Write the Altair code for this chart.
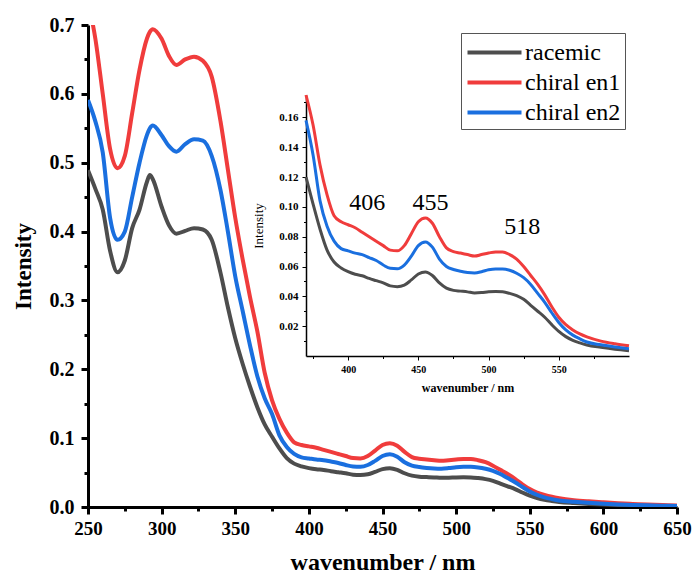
import altair as alt
import pandas as pd

# ---------------- data ----------------
wavelength = [250, 255, 260, 265, 270, 275, 280, 285, 290, 292, 294, 300, 305, 310, 316, 322, 328, 334,
              340, 345, 350, 355, 360, 365, 370, 375, 380, 385, 390, 395, 400, 405, 410, 415, 420,
              425, 430, 435, 440, 445, 450, 455, 460, 465, 470, 475, 480, 485, 490, 495, 500, 505,
              510, 515, 520, 525, 530, 535, 540, 545, 550, 555, 560, 565, 570, 580, 590, 600, 610,
              620, 630, 640, 650]

racemic = [0.489, 0.462, 0.432, 0.372, 0.341, 0.358, 0.405, 0.432, 0.472, 0.482, 0.476, 0.436, 0.409,
           0.397, 0.401, 0.405, 0.403, 0.388, 0.340, 0.290, 0.245, 0.208, 0.175, 0.145, 0.120, 0.102,
           0.085, 0.071, 0.063, 0.059, 0.0565, 0.0548, 0.0538, 0.052, 0.0505, 0.049, 0.047, 0.0465,
           0.0475, 0.051, 0.055, 0.0564, 0.054, 0.049, 0.0455, 0.044, 0.0435, 0.043, 0.0423, 0.0425,
           0.043, 0.0432, 0.043, 0.042, 0.0405, 0.038, 0.034, 0.030, 0.026, 0.021, 0.0165, 0.013,
           0.0105, 0.0088, 0.0074, 0.0058, 0.0045, 0.0036, 0.003, 0.0025, 0.002, 0.0017, 0.0015]

chiral_en1 = [0.735, 0.68, 0.60, 0.52, 0.492, 0.51, 0.572, 0.635, 0.680, 0.690, 0.694, 0.680, 0.655,
              0.642, 0.650, 0.654, 0.648, 0.625, 0.560, 0.490, 0.420, 0.360, 0.305, 0.255, 0.195,
              0.155, 0.128, 0.108, 0.094, 0.090, 0.088, 0.086, 0.083, 0.080, 0.077, 0.074, 0.071,
              0.0705, 0.074, 0.082, 0.090, 0.0926, 0.089, 0.080, 0.0725, 0.070, 0.069, 0.068, 0.067,
              0.068, 0.069, 0.0698, 0.0698, 0.068, 0.065, 0.060, 0.054, 0.048, 0.041, 0.033, 0.026,
              0.021, 0.0175, 0.0148, 0.0128, 0.010, 0.0082, 0.0068, 0.0055, 0.0045, 0.0035, 0.0028,
              0.0022]

chiral_en2 = [0.591, 0.560, 0.515, 0.420, 0.388, 0.400, 0.450, 0.500, 0.540, 0.550, 0.554, 0.540,
              0.524, 0.516, 0.527, 0.534, 0.532, 0.510, 0.460, 0.400, 0.335, 0.285, 0.235, 0.190,
              0.158, 0.135, 0.104, 0.087, 0.077, 0.072, 0.0705, 0.069, 0.068, 0.066, 0.064, 0.061,
              0.0588, 0.0585, 0.061, 0.067, 0.074, 0.0765, 0.073, 0.065, 0.060, 0.058, 0.0568, 0.056,
              0.0557, 0.0565, 0.0578, 0.0584, 0.0584, 0.0575, 0.0555, 0.0525, 0.048, 0.042, 0.036,
              0.029, 0.0225, 0.0175, 0.014, 0.0115, 0.0094, 0.0075, 0.006, 0.0048, 0.0038, 0.003,
              0.0024, 0.0019, 0.0015]

series_names = ["racemic", "chiral en1", "chiral en2"]
series_colors = ["#4d4d4d", "#f03c3c", "#1a6fdf"]

main_x_ticks = [250, 275, 300, 325, 350, 375, 400, 425, 450, 475, 500, 525, 550, 575, 600, 625, 650]
main_y_ticks = [0.0, 0.05, 0.1, 0.15, 0.2, 0.25, 0.3, 0.35, 0.4, 0.45, 0.5, 0.55, 0.6, 0.65, 0.7]
inset_x_ticks = [375, 400, 425, 450, 475, 500, 525, 550, 575]
inset_y_ticks = [0.01, 0.02, 0.03, 0.04, 0.05, 0.06, 0.07, 0.08, 0.09, 0.10, 0.11, 0.12, 0.13,
                 0.14, 0.15, 0.16, 0.17]

peak_labels = ["406", "455", "518"]
peak_label_x = [413.6, 458.6, 524.0]
peak_label_y = [0.1027, 0.1027, 0.0866]

rows = []
for name, vals in zip(series_names, [racemic, chiral_en1, chiral_en2]):
    for w, v in zip(wavelength, vals):
        rows.append({"wl": w, "val": v, "series": name})
df = pd.DataFrame(rows)
ann = pd.DataFrame({"label": peak_labels, "wl": peak_label_x, "val": peak_label_y})

FONT = "Liberation Serif, Times New Roman, serif"

color_scale = alt.Scale(domain=series_names, range=series_colors)

W, H = 589, 482
INSET_X_RANGE = [218, 541]
INSET_Y_RANGE = [331, 70]

# ---------------- main chart ----------------
main = alt.Chart(df).mark_line(strokeWidth=4, clip=True, interpolate="monotone").encode(
    x=alt.X("wl:Q",
            scale=alt.Scale(domain=[250, 650], nice=False, zero=False),
            axis=alt.Axis(
                title="wavenumber / nm", values=main_x_ticks,
                labelExpr="datum.value % 50 === 0 ? datum.label : ''",
                tickSize={"condition": {"test": "datum.value % 50 === 0", "value": 7}, "value": 4},
                tickWidth=3, domainWidth=3, domainColor="black", tickColor="black",
                labelFont=FONT, labelFontSize=19, labelFontWeight="bold", labelColor="black",
                labelPadding=5, labelFlush=False,
                titleFont=FONT, titleFontSize=24, titleFontWeight="bold", titleColor="black",
                titlePadding=12, grid=False)),
    y=alt.Y("val:Q",
            scale=alt.Scale(domain=[0, 0.7], nice=False),
            axis=alt.Axis(
                title="Intensity", values=main_y_ticks,
                labelExpr="round(datum.value*100) % 10 === 0 ? format(datum.value, '.1f') : ''",
                tickSize={"condition": {"test": "round(datum.value*100) % 10 === 0", "value": 7}, "value": 4},
                tickWidth=3, domainWidth=3, domainColor="black", tickColor="black",
                labelFont=FONT, labelFontSize=20, labelFontWeight="bold", labelColor="black",
                labelPadding=7, labelFlush=False,
                titleFont=FONT, titleFontSize=23, titleFontWeight="bold", titleColor="black",
                titlePadding=14, grid=False)),
    color=alt.Color("series:N", scale=color_scale, sort=series_names,
                    legend=alt.Legend(
                        title=None, orient="none", legendX=373, legendY=8,
                        symbolType="M-2,0H2", symbolSize=729, symbolStrokeWidth=4,
                        symbolOffset=14,
                        labelFont=FONT, labelFontSize=24, labelColor="black",
                        labelOffset=15, rowPadding=2, padding=4,
                        strokeColor="#555555", fillColor="white")),
)

# ---------------- inset ----------------
inset_lines = alt.Chart(df).transform_filter(
    "datum.wl >= 370 && datum.wl <= 600"
).mark_line(strokeWidth=3, interpolate="monotone").encode(
    x=alt.X("wl:Q",
            scale=alt.Scale(domain=[370, 600], range=INSET_X_RANGE, nice=False, zero=False),
            axis=alt.Axis(
                orient="bottom", offset=-151, title="wavenumber / nm", values=inset_x_ticks,
                labelExpr="datum.value % 50 === 0 ? datum.label : ''",
                tickSize={"condition": {"test": "datum.value % 50 === 0", "value": 4}, "value": 2.5},
                tickWidth=1, domainWidth=1.5, domainColor="black", tickColor="black",
                labelFont=FONT, labelFontSize=10, labelFontWeight="bold", labelColor="black",
                labelPadding=4, labelFlush=False,
                titleFont=FONT, titleFontSize=12, titleFontWeight="bold", titleColor="black",
                titlePadding=8, grid=False)),
    y=alt.Y("val:Q",
            scale=alt.Scale(domain=[0, 0.175], range=INSET_Y_RANGE, nice=False, clamp=True),
            axis=alt.Axis(
                orient="left", offset=-218, title="Intensity", values=inset_y_ticks,
                labelExpr="round(datum.value*100) % 2 === 0 ? format(datum.value, '.2f') : ''",
                tickSize={"condition": {"test": "round(datum.value*100) % 2 === 0", "value": 4}, "value": 2.5},
                tickWidth=1, domainWidth=1.5, domainColor="black", tickColor="black",
                labelFont=FONT, labelFontSize=11, labelFontWeight="bold", labelColor="black",
                labelPadding=4, labelFlush=False,
                titleFont=FONT, titleFontSize=13, titleFontWeight="normal", titleColor="black",
                titlePadding=13, grid=False)),
    color=alt.Color("series:N", scale=color_scale, sort=series_names),
)

inset_text = alt.Chart(ann).mark_text(
    font=FONT, fontSize=24, color="black", baseline="middle", align="center"
).encode(
    x=alt.X("wl:Q", scale=alt.Scale(domain=[370, 600], range=INSET_X_RANGE, nice=False, zero=False),
            axis=None),
    y=alt.Y("val:Q", scale=alt.Scale(domain=[0, 0.175], range=INSET_Y_RANGE, nice=False),
            axis=None),
    text="label:N",
)

chart = alt.layer(main, inset_lines, inset_text).resolve_scale(
    x="independent", y="independent"
).properties(
    width=W, height=H,
    padding={"left": 88, "top": 25, "right": 692 - 88 - W, "bottom": 73},
    autosize=alt.AutoSizeParams(type="none"),
    background="white",
).configure_view(stroke=None)

chart.save("out.html", embed_options={"renderer": "svg", "actions": False})
